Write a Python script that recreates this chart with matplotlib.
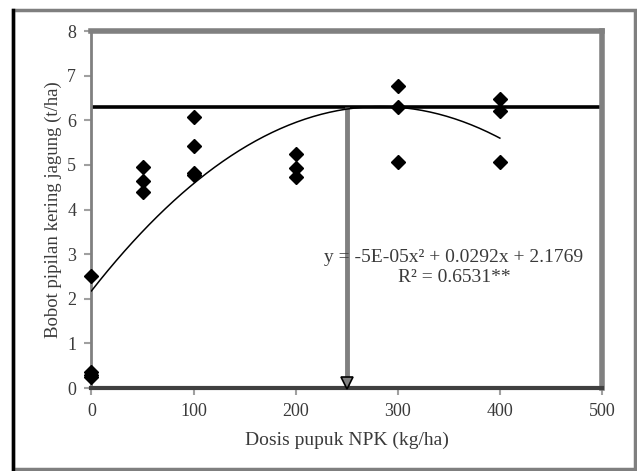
import numpy as np
import matplotlib
matplotlib.use("Agg")
import matplotlib.pyplot as plt
from matplotlib.patches import Rectangle

plt.rcParams['font.family'] = ['Liberation Serif', 'DejaVu Serif']

# Observed grain yield per NPK dose (kg/ha)
dose = [0, 0, 0, 0,
        50, 50, 50,
        100, 100, 100, 100,
        200, 200, 200,
        300, 300, 300,
        400, 400, 400]
yield_t = [2.52, 0.35, 0.30, 0.25,
           4.95, 4.63, 4.40,
           6.08, 5.43, 4.81, 4.78,
           5.25, 4.93, 4.74,
           6.76, 6.29, 5.07,
           6.47, 6.20, 5.06]

# Quadratic trend coefficients
coef_a = -5.16e-05
coef_b = 0.0292
coef_c = 2.1769
r_squared = 0.6531

# Optimum dose / yield reference lines
opt_dose = 250
opt_yield = 6.3

x_ticks = [0, 100, 200, 300, 400, 500]
y_ticks = [0, 1, 2, 3, 4, 5, 6, 7, 8]

fig = plt.figure(figsize=(6.37, 4.71), dpi=100)
fig.patch.set_facecolor('white')

# outer frame
fig.add_artist(Rectangle((0.0204, 0.004), 0.976, 0.975, transform=fig.transFigure,
                         fill=False, edgecolor='#7f7f7f', linewidth=2.5))
fig.add_artist(plt.Line2D([0.0204, 0.0204], [0.004, 0.979], transform=fig.transFigure,
                          color='black', linewidth=2.5))

ax = fig.add_axes([0.1436, 0.1762, 0.8014, 0.7578])
ax.set_xlim(0, 500)
ax.set_ylim(0, 8)

txt_color = '#3a3a3a'

# reference lines
ax.plot([0, 500], [opt_yield, opt_yield], color='black', linewidth=2.6, zorder=2,
        solid_capstyle='butt')
ax.plot([opt_dose, opt_dose], [0, opt_yield], color='#808080', linewidth=3.5, zorder=2,
        solid_capstyle='butt')
ax.plot([opt_dose], [0.12], marker='v', markersize=8, color='black',
        markerfacecolor='#808080', markeredgewidth=1.2, zorder=3, clip_on=False)

# trend curve
xs = np.linspace(0, 400, 200)
ax.plot(xs, coef_a * xs**2 + coef_b * xs + coef_c, color='black', linewidth=1.1, zorder=3)

# observations
ax.plot(dose, yield_t, linestyle='none', marker='D', markersize=7,
        color='black', zorder=4, clip_on=False)

eq = f"y = {coef_a:.0E}x\u00b2 + {coef_b}x + {coef_c}"
ax.text(355, 2.92, eq, ha='center', va='center', fontsize=14, color=txt_color)
ax.text(355, 2.47, f"R\u00b2 = {r_squared}**", ha='center', va='center', fontsize=14,
        color=txt_color)

ax.set_xticks(x_ticks)
ax.set_yticks(y_ticks)
ax.tick_params(axis='both', direction='out', length=5, width=1.5, color='#a0a0a0',
               labelsize=13, labelcolor=txt_color, pad=6)

for side, lw, col in [('left', 2.0, '#808080'), ('top', 4.0, '#808080'),
                      ('right', 4.0, '#808080'), ('bottom', 3.0, '#404040')]:
    ax.spines[side].set_linewidth(lw)
    ax.spines[side].set_color(col)

ax.set_xlabel('Dosis pupuk NPK (kg/ha)', fontsize=14, color=txt_color, labelpad=8)
ax.set_ylabel('Bobot pipilan kering jagung (t/ha)', fontsize=13.5, color=txt_color,
              labelpad=4)

fig.savefig('out.png', dpi=100)
